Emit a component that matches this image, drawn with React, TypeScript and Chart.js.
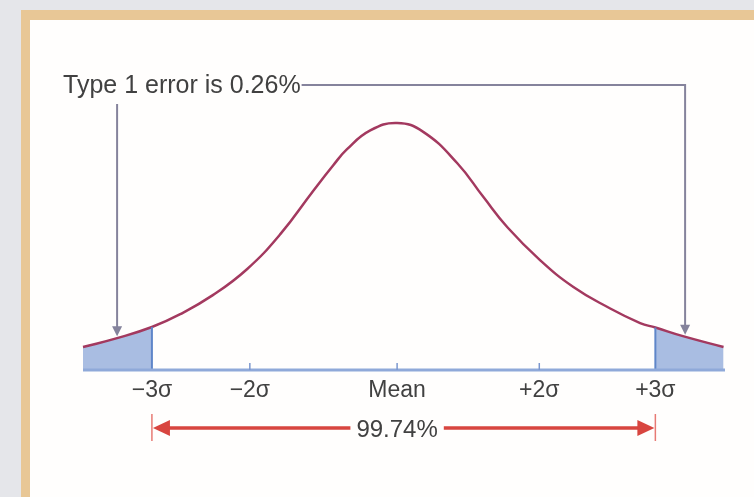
import React, { useEffect, useRef } from 'react';
import { Chart, registerables } from 'chart.js';

Chart.register(...registerables);

// Bell curve (x in σ-like units, y relative height, peak = 100)
const curveX = [-4.33, -3.86, -3.38, -2.99, -2.54, -2.07, -1.61, -1.16, -0.88, -0.69, -0.37, 0, 0.36, 0.83, 1.19, 1.52, 1.97, 2.43, 2.9, 3.35, 3.56, 3.94, 4.5];
const curveY = [9.3, 12.9, 17.4, 22.6, 30.3, 40.8, 55.0, 72.4, 82.9, 89.4, 97.0, 100, 96.4, 83.7, 70.0, 57.8, 44.5, 33.6, 25.5, 19.0, 17.2, 13.7, 9.3];

// Axis ticks
const tickPositions = [-3.38, -2.03, 0, 1.96, 3.56];
const tickLabels = ['\u22123\u03c3', '\u22122\u03c3', 'Mean', '+2\u03c3', '+3\u03c3'];
const tickMarkPositions = [-2.03, 0, 1.96];

// Shaded tails limits (−3σ, +3σ)
const tailLimits = [-3.38, 3.56];
// Where the "Type 1 error" arrows point
const errorArrowX = [-3.86, 3.97];
const errorLabel = 'Type 1 error is 0.26%';
const coverageLabel = '99.74%';

const FONT = "'Liberation Sans', Arial, Helvetica, sans-serif";
const CURVE_COLOR = '#a3395f';
const FILL_COLOR = '#a9bde2';
const EDGE_COLOR = '#5f86c9';
const AXIS_COLOR = '#8fa9d9';
const ARROW_GRAY = '#85839c';
const RED = '#d8453f';
const TEXT_COLOR = '#414141';

function curveAt(v: number): number {
  for (let i = 0; i < curveX.length - 1; i++) {
    if (v >= curveX[i] && v <= curveX[i + 1]) {
      const t = (v - curveX[i]) / (curveX[i + 1] - curveX[i]);
      return curveY[i] + t * (curveY[i + 1] - curveY[i]);
    }
  }
  return curveY[curveY.length - 1];
}

const annotations = {
  id: 'annotations',
  afterDatasetsDraw(chart: any) {
    const { ctx, chartArea, scales } = chart;
    const xs = scales.x;
    const ys = scales.y;
    const y0 = ys.getPixelForValue(0);
    ctx.save();

    // tail boundary lines
    ctx.strokeStyle = EDGE_COLOR;
    ctx.lineWidth = 2;
    tailLimits.forEach((v) => {
      const px = xs.getPixelForValue(v);
      ctx.beginPath();
      ctx.moveTo(px, y0);
      ctx.lineTo(px, ys.getPixelForValue(curveAt(v)));
      ctx.stroke();
    });

    // axis line
    ctx.strokeStyle = AXIS_COLOR;
    ctx.lineWidth = 3;
    ctx.beginPath();
    ctx.moveTo(chartArea.left, y0);
    ctx.lineTo(chartArea.right, y0);
    ctx.stroke();

    // tick marks
    ctx.strokeStyle = '#7b97cf';
    ctx.lineWidth = 1.5;
    tickMarkPositions.forEach((v) => {
      const px = xs.getPixelForValue(v);
      ctx.beginPath();
      ctx.moveTo(px, y0);
      ctx.lineTo(px, y0 - 7);
      ctx.stroke();
    });

    // Type 1 error annotation
    ctx.font = `25px ${FONT}`;
    ctx.fillStyle = TEXT_COLOR;
    ctx.textBaseline = 'alphabetic';
    ctx.textAlign = 'left';
    const textX = 63;
    const textBase = 93;
    ctx.fillText(errorLabel, textX, textBase);
    const tw = ctx.measureText(errorLabel).width;
    const lineY = 85;
    const lx = xs.getPixelForValue(errorArrowX[0]);
    const rx = xs.getPixelForValue(errorArrowX[1]);
    const lTip = ys.getPixelForValue(curveAt(errorArrowX[0])) - 2;
    const rTip = ys.getPixelForValue(curveAt(errorArrowX[1])) - 2;
    ctx.strokeStyle = ARROW_GRAY;
    ctx.fillStyle = ARROW_GRAY;
    ctx.lineWidth = 2;
    ctx.beginPath();
    ctx.moveTo(textX + tw + 1, lineY);
    ctx.lineTo(rx, lineY);
    ctx.lineTo(rx, rTip - 8);
    ctx.stroke();
    ctx.beginPath();
    ctx.moveTo(lx, 104);
    ctx.lineTo(lx, lTip - 8);
    ctx.stroke();
    const head = (x: number, tip: number) => {
      ctx.beginPath();
      ctx.moveTo(x, tip);
      ctx.lineTo(x - 5, tip - 10);
      ctx.lineTo(x + 5, tip - 10);
      ctx.closePath();
      ctx.fill();
    };
    head(lx, lTip);
    head(rx, rTip);

    // 99.74% double arrow
    const ay = 428;
    const ax1 = xs.getPixelForValue(tailLimits[0]);
    const ax2 = xs.getPixelForValue(tailLimits[1]);
    const cx = xs.getPixelForValue(0);
    ctx.font = `24px ${FONT}`;
    const cw = ctx.measureText(coverageLabel).width;
    ctx.strokeStyle = '#e77a74';
    ctx.lineWidth = 1.5;
    [ax1, ax2].forEach((px) => {
      ctx.beginPath();
      ctx.moveTo(px, ay - 14);
      ctx.lineTo(px, ay + 13);
      ctx.stroke();
    });
    ctx.strokeStyle = RED;
    ctx.lineWidth = 3.5;
    ctx.beginPath();
    ctx.moveTo(ax1 + 10, ay);
    ctx.lineTo(cx - cw / 2 - 6, ay);
    ctx.moveTo(cx + cw / 2 + 6, ay);
    ctx.lineTo(ax2 - 10, ay);
    ctx.stroke();
    ctx.fillStyle = RED;
    ctx.beginPath();
    ctx.moveTo(ax1 + 1, ay);
    ctx.lineTo(ax1 + 18, ay - 8);
    ctx.lineTo(ax1 + 18, ay + 8);
    ctx.closePath();
    ctx.fill();
    ctx.beginPath();
    ctx.moveTo(ax2 - 1, ay);
    ctx.lineTo(ax2 - 18, ay - 8);
    ctx.lineTo(ax2 - 18, ay + 8);
    ctx.closePath();
    ctx.fill();
    ctx.fillStyle = TEXT_COLOR;
    ctx.textAlign = 'center';
    ctx.textBaseline = 'middle';
    ctx.fillText(coverageLabel, cx, ay + 2);

    ctx.restore();
  },
};

export default function App() {
  const ref = useRef<HTMLCanvasElement | null>(null);

  useEffect(() => {
    if (!ref.current) return;
    const curve = curveX.map((x, i) => ({ x, y: curveY[i] }));
    const leftTail = curve.filter((p) => p.x <= tailLimits[0]);
    const rightTail = curve.filter((p) => p.x >= tailLimits[1]);

    const chart = new Chart(ref.current, {
      type: 'line',
      data: {
        datasets: [
          {
            data: curve,
            borderColor: CURVE_COLOR,
            borderWidth: 2.5,
            pointRadius: 0,
            tension: 0.45,
            fill: false,
            clip: false as any,
          },
          {
            data: leftTail,
            borderWidth: 0,
            borderColor: 'rgba(0,0,0,0)',
            backgroundColor: FILL_COLOR,
            pointRadius: 0,
            tension: 0.3,
            fill: 'origin',
          },
          {
            data: rightTail,
            borderWidth: 0,
            borderColor: 'rgba(0,0,0,0)',
            backgroundColor: FILL_COLOR,
            pointRadius: 0,
            tension: 0.3,
            fill: 'origin',
          },
        ],
      },
      options: {
        animation: false,
        responsive: false,
        maintainAspectRatio: false,
        layout: { padding: { left: 83, right: 29, top: 98.3, bottom: 0 } },
        plugins: { legend: { display: false }, tooltip: { enabled: false } },
        scales: {
          x: {
            type: 'linear',
            min: -4.33,
            max: 4.52,
            grid: { display: false, drawTicks: false },
            border: { display: false },
            afterBuildTicks: (s: any) => {
              s.ticks = tickPositions.map((v) => ({ value: v }));
            },
            afterFit: (s: any) => {
              s.height = 127;
            },
            ticks: {
              autoSkip: false,
              maxRotation: 0,
              padding: 7,
              color: TEXT_COLOR,
              font: { family: FONT, size: 23 },
              callback: (_v: any, i: number) => tickLabels[i],
            },
          },
          y: { display: false, min: 0, max: 110 },
        },
      },
      plugins: [annotations],
    } as any);
    return () => chart.destroy();
  }, []);

  return (
    <div
      style={{
        position: 'fixed',
        left: 0,
        top: 0,
        width: 754,
        height: 497,
        overflow: 'hidden',
        background: '#e5e6ea',
      }}
    >
      <div
        style={{
          position: 'absolute',
          left: 21,
          top: 10,
          width: 760,
          height: 520,
          boxSizing: 'border-box',
          background: '#fffefd',
          borderTop: '10px solid #e8c796',
          borderLeft: '9px solid #e8c796',
        }}
      />
      <canvas
        ref={ref}
        width={754}
        height={497}
        style={{ position: 'absolute', left: 0, top: 0, width: 754, height: 497, display: 'block' }}
      />
    </div>
  );
}
